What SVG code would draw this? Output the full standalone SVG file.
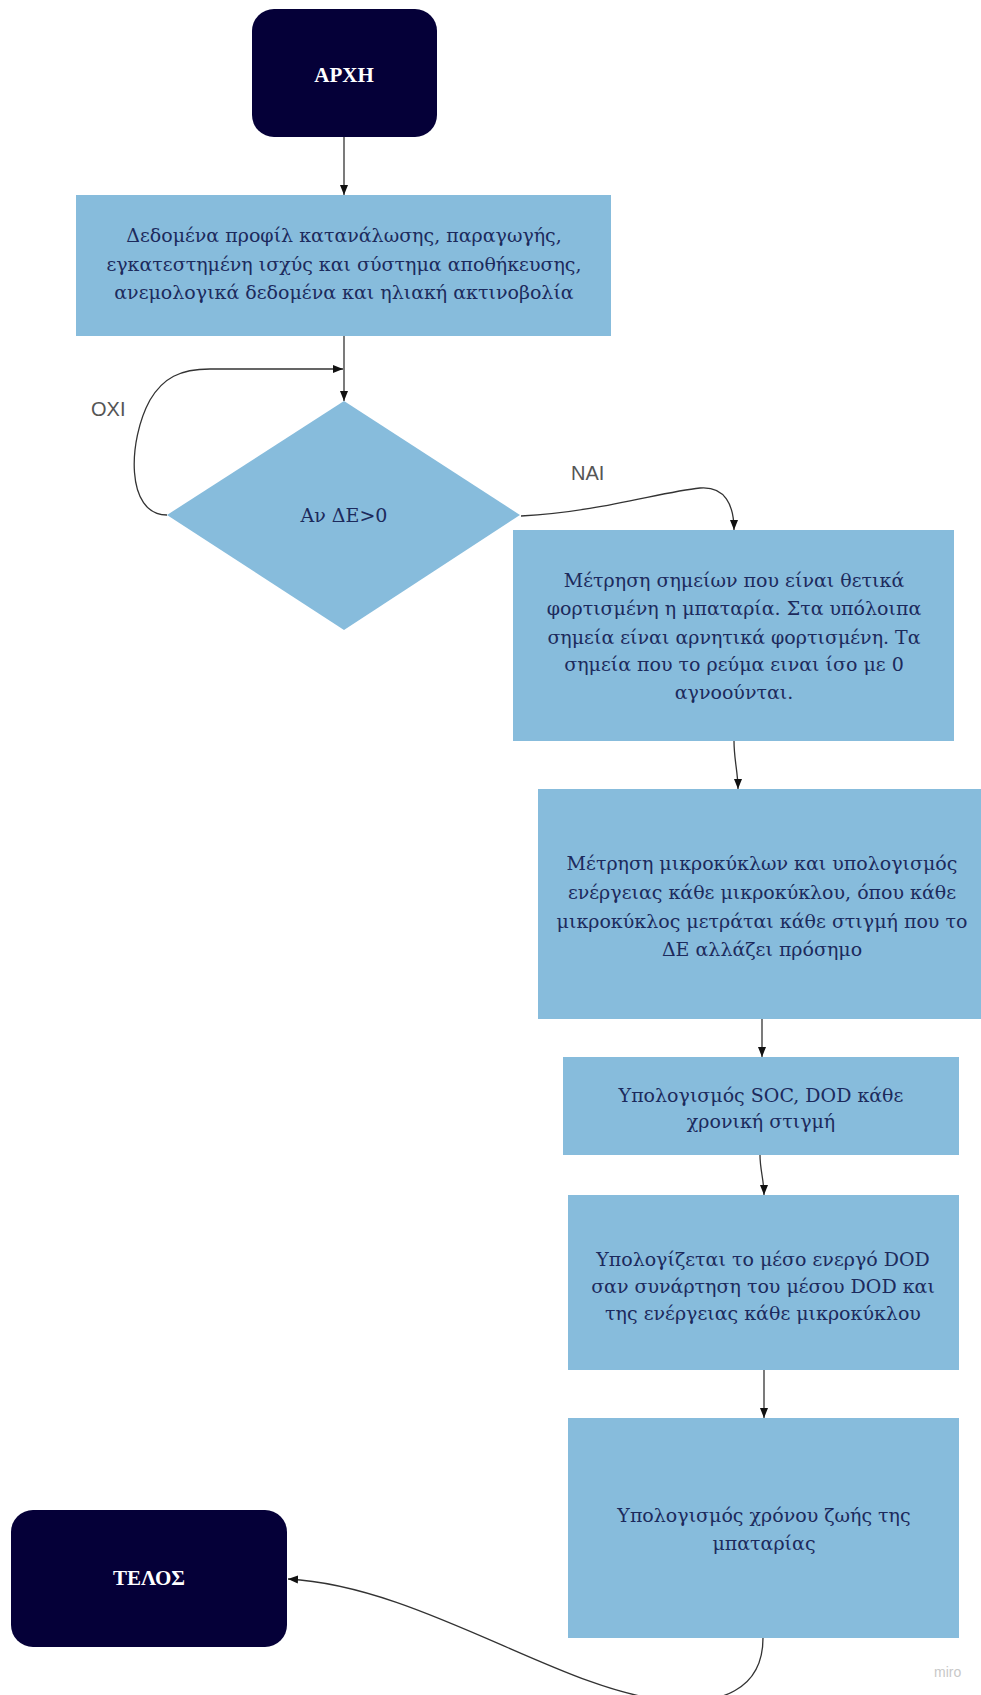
<svg xmlns="http://www.w3.org/2000/svg" width="981" height="1695" viewBox="0 0 981 1695">
  <defs>
    <marker id="arrow" viewBox="0 0 10 10" refX="10" refY="5" markerWidth="10" markerHeight="10" markerUnits="userSpaceOnUse" orient="auto">
      <path d="M0,1 L10,5 L0,9 Z" fill="#111"/>
    </marker>
    <style>
      .terminal { fill: #050038; }
      .process { fill: #87bcdc; }
      .label { font-family: "DejaVu Serif", "Liberation Serif", serif; font-size: 19px; fill: #1c2a5c; text-anchor: middle; }
      .term-label { font-family: "Liberation Serif", "DejaVu Serif", serif; font-size: 21px; font-weight: bold; fill: #ffffff; text-anchor: middle; }
      .branch { font-family: "Liberation Sans", Arial, sans-serif; font-size: 20px; fill: #555555; }
      .edge { fill: none; stroke: #333333; stroke-width: 1.3; marker-end: url(#arrow); }
      .brand { font-family: "Liberation Sans", Arial, sans-serif; font-size: 14px; fill: #c8c8c8; }
    </style>
  </defs>

  <rect width="981" height="1695" fill="#ffffff"/>

  <!-- connectors -->
  <g id="connectors">
    <path class="edge" d="M344,137 L344,195"/>
    <path class="edge" d="M344,336 L344,401"/>
    <path class="edge" d="M167,515 C125,515 128,440 150,400 C163,378 180,369 210,369 L343,369"/>
    <path class="edge" d="M521,516 C600,512 660,492 700,488 C725,486 734,505 734,530"/>
    <path class="edge" d="M734,741 C734,760 738,772 738,789"/>
    <path class="edge" d="M762,1019 L762,1057"/>
    <path class="edge" d="M760,1155 C760,1170 764,1180 764,1195"/>
    <path class="edge" d="M764,1370 L764,1418"/>
    <path class="edge" d="M763,1638 C763,1690 720,1706 665,1700 C560,1690 420,1586 288,1579"/>
  </g>

  <!-- branch labels -->
  <text class="branch" x="91" y="416">OXI</text>
  <text class="branch" x="571" y="480">NAI</text>

  <!-- start -->
  <g id="start">
    <rect class="terminal" x="252" y="9" width="185" height="128" rx="22"/>
    <text class="term-label" x="344" y="82">ΑΡΧΗ</text>
  </g>

  <!-- input data -->
  <g id="input-data">
    <rect class="process" x="76" y="195" width="535" height="141"/>
    <text class="label" x="344" y="242">Δεδομένα προφίλ κατανάλωσης, παραγωγής,</text>
    <text class="label" x="344" y="271">εγκατεστημένη ισχύς και σύστημα αποθήκευσης,</text>
    <text class="label" x="344" y="299">ανεμολογικά δεδομένα και ηλιακή ακτινοβολία</text>
  </g>

  <!-- decision -->
  <g id="decision">
    <polygon class="process" points="344,401 520,515 344,630 167,515"/>
    <text class="label" x="344" y="522">Αν ΔΕ&gt;0</text>
  </g>

  <!-- charge state counting -->
  <g id="charge-points">
    <rect class="process" x="513" y="530" width="441" height="211"/>
    <text class="label" x="734" y="587">Μέτρηση σημείων που είναι θετικά</text>
    <text class="label" x="734" y="615">φορτισμένη η μπαταρία. Στα υπόλοιπα</text>
    <text class="label" x="734" y="644">σημεία είναι αρνητικά φορτισμένη. Τα</text>
    <text class="label" x="734" y="671">σημεία που το ρεύμα ειναι ίσο με 0</text>
    <text class="label" x="734" y="699">αγνοούνται.</text>
  </g>

  <!-- micro-cycles -->
  <g id="micro-cycles">
    <rect class="process" x="538" y="789" width="450" height="230"/>
    <text class="label" x="762" y="870">Μέτρηση μικροκύκλων και υπολογισμός</text>
    <text class="label" x="762" y="899">ενέργειας κάθε μικροκύκλου, όπου κάθε</text>
    <text class="label" x="762" y="928">μικροκύκλος μετράται κάθε στιγμή που το</text>
    <text class="label" x="762" y="956">ΔΕ αλλάζει πρόσημο</text>
  </g>

  <!-- SOC / DOD -->
  <g id="soc-dod">
    <rect class="process" x="563" y="1057" width="396" height="98"/>
    <text class="label" x="761" y="1102">Υπολογισμός SOC, DOD κάθε</text>
    <text class="label" x="761" y="1128">χρονική στιγμή</text>
  </g>

  <!-- effective DOD -->
  <g id="effective-dod">
    <rect class="process" x="568" y="1195" width="391" height="175"/>
    <text class="label" x="763" y="1266">Υπολογίζεται το μέσο ενεργό DOD</text>
    <text class="label" x="763" y="1293">σαν συνάρτηση του μέσου DOD και</text>
    <text class="label" x="763" y="1320">της ενέργειας κάθε μικροκύκλου</text>
  </g>

  <!-- lifetime -->
  <g id="lifetime">
    <rect class="process" x="568" y="1418" width="391" height="220"/>
    <text class="label" x="764" y="1522">Υπολογισμός χρόνου ζωής της</text>
    <text class="label" x="764" y="1550">μπαταρίας</text>
  </g>

  <!-- end -->
  <g id="end">
    <rect class="terminal" x="11" y="1510" width="276" height="137" rx="22"/>
    <text class="term-label" x="149" y="1585">ΤΕΛΟΣ</text>
  </g>

  <text class="brand" x="934" y="1677">miro</text>
</svg>
